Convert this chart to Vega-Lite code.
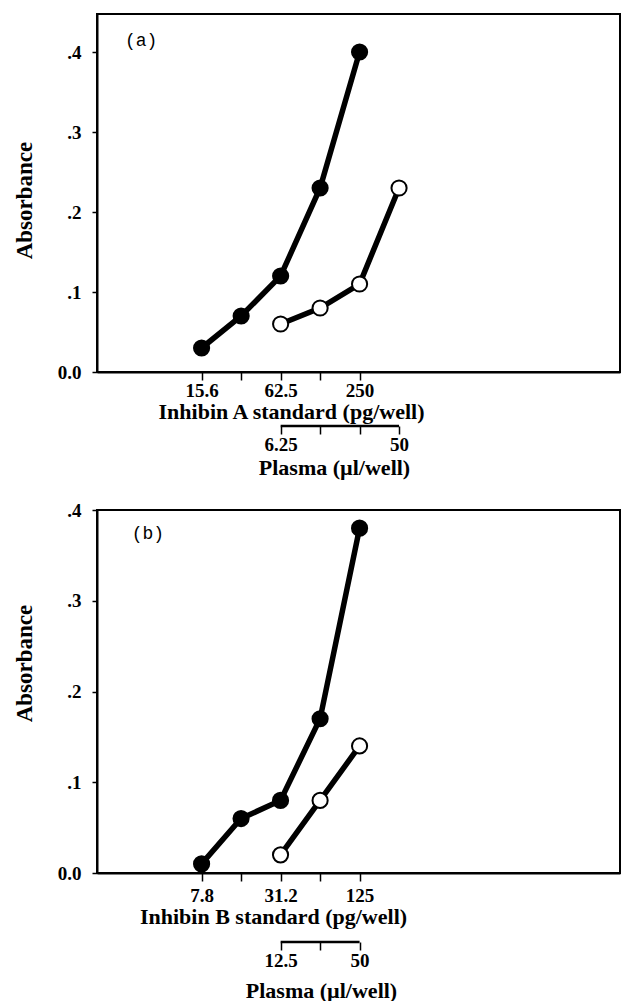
{
  "$schema": "https://vega.github.io/schema/vega-lite/v6.json",
  "padding": {"left": 12, "top": 13, "right": 0, "bottom": 0},
  "background": "white",
  "config": {
    "view": {"stroke": "black", "strokeWidth": 2},
    "axis": {
      "labelFont": "Liberation Serif", "labelFontWeight": "bold", "labelFontSize": 19, "labelColor": "black",
      "titleFont": "Liberation Serif", "titleFontWeight": "bold", "titleColor": "black",
      "grid": false, "tickColor": "black", "domainColor": "black", "tickWidth": 1.5, "domainWidth": 2
    },
    "axisX": {"tickSize": 8, "labelPadding": 1, "titleFontSize": 22, "titlePadding": 1},
    "axisY": {"tickSize": 5, "labelPadding": 11, "titleFontSize": 23, "titlePadding": 21}
  },
  "datasets": {
    "a": [
      {"series": "standard", "dose": 15.6, "absorbance": 0.03},
      {"series": "standard", "dose": 31.25, "absorbance": 0.07},
      {"series": "standard", "dose": 62.5, "absorbance": 0.12},
      {"series": "standard", "dose": 125, "absorbance": 0.23},
      {"series": "standard", "dose": 250, "absorbance": 0.40},
      {"series": "plasma", "dose": 62.5, "plasma": 6.25, "absorbance": 0.06},
      {"series": "plasma", "dose": 125, "plasma": 12.5, "absorbance": 0.08},
      {"series": "plasma", "dose": 250, "plasma": 25, "absorbance": 0.11},
      {"series": "plasma", "dose": 500, "plasma": 50, "absorbance": 0.23}
    ],
    "b": [
      {"series": "standard", "dose": 7.8, "absorbance": 0.01},
      {"series": "standard", "dose": 15.6, "absorbance": 0.06},
      {"series": "standard", "dose": 31.2, "absorbance": 0.08},
      {"series": "standard", "dose": 62.5, "absorbance": 0.17},
      {"series": "standard", "dose": 125, "absorbance": 0.38},
      {"series": "plasma", "dose": 31.2, "plasma": 12.5, "absorbance": 0.02},
      {"series": "plasma", "dose": 62.5, "plasma": 25, "absorbance": 0.08},
      {"series": "plasma", "dose": 125, "plasma": 50, "absorbance": 0.14}
    ]
  },
  "spacing": 22,
  "vconcat": [
    {
      "spacing": 1,
      "vconcat": [
        {
          "width": 523, "height": 358,
          "layer": [
            {
              "data": {"name": "a"},
              "mark": {"type": "line", "color": "black", "strokeWidth": 5.5},
              "encoding": {
                "x": {"field": "dose", "type": "quantitative",
                  "scale": {"type": "log", "base": 2, "domain": [2.486, 24210], "nice": false},
                  "axis": {"values": [15.6, 31.25, 62.5, 125, 250],
                    "labelExpr": "datum.value == 15.6 ? '15.6' : datum.value == 62.5 ? '62.5' : datum.value == 250 ? '250' : ''",
                    "title": "Inhibin A standard (pg/well)", "titleX": 194}},
                "y": {"field": "absorbance", "type": "quantitative",
                  "scale": {"domain": [0, 0.4475], "nice": false},
                  "axis": {"values": [0, 0.1, 0.2, 0.3, 0.4],
                    "labelExpr": "datum.value == 0 ? '0.0' : replace(format(datum.value, '.1f'), '0.', '.')",
                    "title": "Absorbance", "titleY": 186}},
                "detail": {"field": "series"}
              }
            },
            {
              "data": {"name": "a"},
              "mark": {"type": "point", "shape": "circle", "size": 230, "stroke": "black", "strokeWidth": 2, "opacity": 1, "filled": false},
              "encoding": {
                "x": {"field": "dose", "type": "quantitative"},
                "y": {"field": "absorbance", "type": "quantitative"},
                "fill": {"field": "series", "type": "nominal",
                  "scale": {"domain": ["standard", "plasma"], "range": ["black", "white"]}, "legend": null}
              }
            },
            {
              "data": {"values": [{"panel": "(a)", "dose": 5.4, "absorbance": 0.414}]},
              "mark": {"type": "text", "font": "Liberation Mono", "fontSize": 18, "color": "black"},
              "encoding": {
                "x": {"field": "dose", "type": "quantitative"},
                "y": {"field": "absorbance", "type": "quantitative"},
                "text": {"field": "panel"}
              }
            }
          ]
        },
        {
          "width": 523, "height": 1,
          "view": {"stroke": null},
          "data": {"values": [{"from": 6.25, "to": 50}]},
          "mark": {"type": "rule", "color": "black", "strokeWidth": 2.5},
          "encoding": {
            "x": {"field": "from", "type": "quantitative",
              "scale": {"type": "log", "base": 2, "domain": [0.2486, 2421], "nice": false},
              "axis": {"values": [6.25, 12.5, 25, 50], "domain": false,
                "labelExpr": "datum.value == 6.25 ? '6.25' : datum.value == 50 ? '50' : ''",
                "title": "Plasma (µl/well)", "titlePadding": 3, "titleX": 237}},
            "x2": {"field": "to"},
            "y": {"datum": 0, "type": "quantitative", "scale": {"domain": [0, 1]}, "axis": null}
          }
        }
      ]
    },
    {
      "spacing": 2,
      "vconcat": [
        {
          "width": 523, "height": 363,
          "layer": [
            {
              "data": {"name": "b"},
              "mark": {"type": "line", "color": "black", "strokeWidth": 5.5},
              "encoding": {
                "x": {"field": "dose", "type": "quantitative",
                  "scale": {"type": "log", "base": 2, "domain": [1.243, 12106], "nice": false},
                  "axis": {"values": [7.8, 15.6, 31.2, 62.5, 125], "labelPadding": 5,
                    "labelExpr": "datum.value == 7.8 ? '7.8' : datum.value == 31.2 ? '31.2' : datum.value == 125 ? '125' : ''",
                    "title": "Inhibin B standard (pg/well)", "titleX": 176}},
                "y": {"field": "absorbance", "type": "quantitative",
                  "scale": {"domain": [0, 0.4], "nice": false},
                  "axis": {"values": [0, 0.1, 0.2, 0.3, 0.4],
                    "labelExpr": "datum.value == 0 ? '0.0' : replace(format(datum.value, '.1f'), '0.', '.')",
                    "title": "Absorbance", "titleY": 153}},
                "detail": {"field": "series"}
              }
            },
            {
              "data": {"name": "b"},
              "mark": {"type": "point", "shape": "circle", "size": 230, "stroke": "black", "strokeWidth": 2, "opacity": 1, "filled": false},
              "encoding": {
                "x": {"field": "dose", "type": "quantitative"},
                "y": {"field": "absorbance", "type": "quantitative"},
                "fill": {"field": "series", "type": "nominal",
                  "scale": {"domain": ["standard", "plasma"], "range": ["black", "white"]}, "legend": null}
              }
            },
            {
              "data": {"values": [{"panel": "(b)", "dose": 3.04, "absorbance": 0.374}]},
              "mark": {"type": "text", "font": "Liberation Mono", "fontSize": 18, "color": "black"},
              "encoding": {
                "x": {"field": "dose", "type": "quantitative"},
                "y": {"field": "absorbance", "type": "quantitative"},
                "text": {"field": "panel"}
              }
            }
          ]
        },
        {
          "width": 523, "height": 12,
          "view": {"stroke": null},
          "data": {"values": [{"from": 12.5, "to": 50}]},
          "mark": {"type": "rule", "color": "black", "strokeWidth": 2.5},
          "encoding": {
            "x": {"field": "from", "type": "quantitative",
              "scale": {"type": "log", "base": 2, "domain": [0.4972, 4842], "nice": false},
              "axis": {"values": [12.5, 25, 50], "domain": false,
                "labelExpr": "datum.value == 12.5 ? '12.5' : datum.value == 50 ? '50' : ''",
                "title": "Plasma (µl/well)", "titlePadding": 10, "titleX": 224}},
            "x2": {"field": "to"},
            "y": {"datum": 0, "type": "quantitative", "scale": {"domain": [0, 1]}, "axis": null}
          }
        }
      ]
    }
  ]
}
